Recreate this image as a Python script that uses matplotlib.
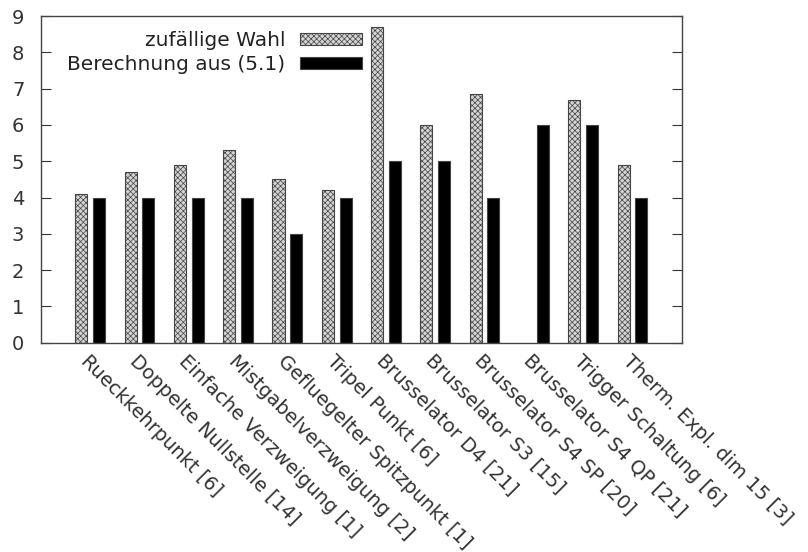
import matplotlib
matplotlib.use("Agg")
import matplotlib.pyplot as plt
import numpy as np

categories = [
    "Rueckkehrpunkt [6]",
    "Doppelte Nullstelle [14]",
    "Einfache Verzweigung [1]",
    "Mistgabelverzweigung [2]",
    "Gefluegelter Spitzpunkt [1]",
    "Tripel Punkt [6]",
    "Brusselator D4 [21]",
    "Brusselator S3 [15]",
    "Brusselator S4 SP [20]",
    "Brusselator S4 QP [21]",
    "Trigger Schaltung [6]",
    "Therm. Expl. dim 15 [3]",
]
zufaellig = [4.1, 4.7, 4.9, 5.3, 4.5, 4.2, 8.7, 6.0, 6.85, np.nan, 6.7, 4.9]
berechnung = [4, 4, 4, 4, 3, 4, 5, 5, 4, 6, 6, 4]

plt.rcParams["hatch.color"] = "#555555"
plt.rcParams["hatch.linewidth"] = 0.5

fig = plt.figure(figsize=(8.08, 5.52), dpi=100)
ax = fig.add_axes([0.0507, 0.379, 0.793, 0.592])

x = np.arange(len(categories))
w = 0.245
ax.bar(x - 0.18, zufaellig, w, facecolor="#d4d4d4", edgecolor="#444444",
       linewidth=0.8, hatch="xxxxxx", label="zufällige Wahl")
ax.bar(x + 0.18, berechnung, w, facecolor="black", edgecolor="#444444",
       linewidth=0.8, label="Berechnung aus (5.1)")

ax.set_xlim(-1, 12)
ax.set_ylim(0, 9)
ax.set_yticks(range(10))
ax.set_xticks(x)
ax.set_xticklabels(categories, rotation=-45, ha="left", va="top",
                   rotation_mode="anchor")
ax.tick_params(axis="x", length=0, pad=6, labelsize=14, colors="#333333")
ax.tick_params(axis="y", direction="in", right=True, length=7, pad=12,
               labelsize=14, colors="#333333")
for s in ax.spines.values():
    s.set_color("#444444")
    s.set_linewidth(1.0)

leg = ax.legend(loc="upper right", bbox_to_anchor=(0.501, 0.955), markerfirst=False,
                frameon=False, fontsize=14.5, handlelength=3.1, handleheight=0.55,
                handletextpad=0.7, labelspacing=0.28, borderpad=0, borderaxespad=0)
for t in leg.get_texts():
    t.set_ha("right")
    t.set_color("#222222")
leg._legend_box.align = "right"

fig.savefig("out.png", dpi=100)
